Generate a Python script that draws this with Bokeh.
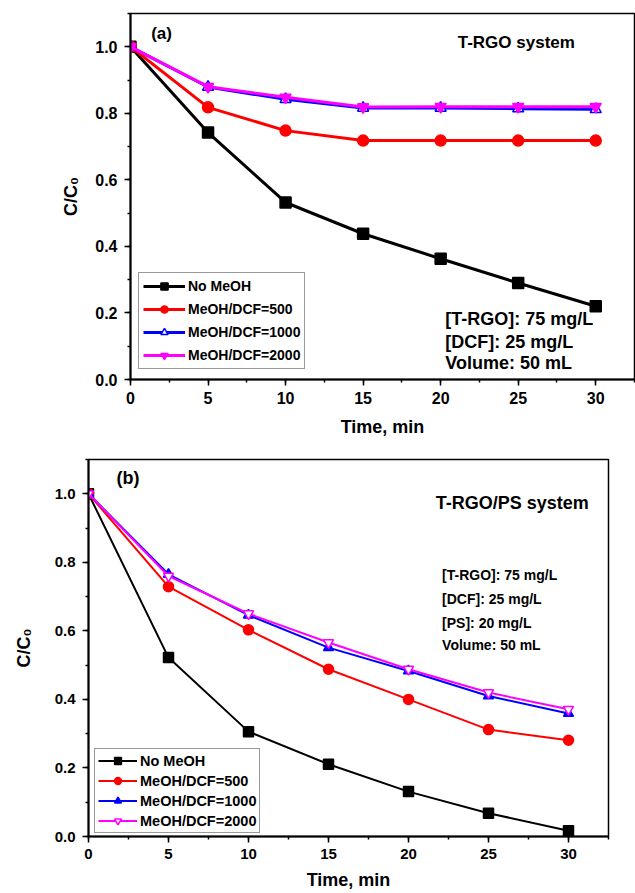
from bokeh.plotting import figure
from bokeh.layouts import column
from bokeh.models import Range1d, SingleIntervalTicker, PrintfTickFormatter, Label
from bokeh.embed import file_html
from bokeh.resources import INLINE

FONT = "Liberation Sans"

# ---- data ----
time_min = [0, 5, 10, 15, 20, 25, 30]
series_names = ["No MeOH", "MeOH/DCF=500", "MeOH/DCF=1000", "MeOH/DCF=2000"]

# panel (a): T-RGO system
a_no_meoh = [1.0, 0.742, 0.532, 0.438, 0.363, 0.290, 0.220]
a_500 = [1.0, 0.818, 0.748, 0.718, 0.718, 0.718, 0.718]
a_1000 = [1.0, 0.879, 0.842, 0.816, 0.816, 0.814, 0.812]
a_2000 = [1.0, 0.880, 0.848, 0.819, 0.820, 0.820, 0.820]

# panel (b): T-RGO/PS system
b_no_meoh = [1.0, 0.522, 0.306, 0.211, 0.131, 0.068, 0.017]
b_500 = [1.0, 0.729, 0.603, 0.488, 0.400, 0.312, 0.281]
b_1000 = [1.0, 0.765, 0.646, 0.551, 0.483, 0.410, 0.359]
b_2000 = [1.0, 0.760, 0.650, 0.566, 0.488, 0.420, 0.371]

a_notes = ["[T-RGO]: 75 mg/L", "[DCF]: 25 mg/L", "Volume: 50 mL"]
b_notes = ["[T-RGO]: 75 mg/L", "[DCF]:  25 mg/L", "[PS]: 20 mg/L", "Volume: 50 mL"]

colors = ["#000000", "#ff0000", "#0000ff", "#ff00ff"]
markers_a = ["square", "circle", "triangle", "inverted_triangle"]
fills_a = ["#000000", "#ff0000", "#ffffff", "#ff00ff"]
markers_b = ["square", "circle", "triangle", "inverted_triangle"]
fills_b = ["#000000", "#ff0000", "#0000ff", "#ffffff"]


def style(p, tick_size, label_size, ylab_standoff, xlab_standoff):
    p.frame_align = False
    p.xgrid.visible = False
    p.ygrid.visible = False
    p.outline_line_color = "#000000"
    p.outline_line_width = 1.5
    p.background_fill_color = "#ffffff"
    p.border_fill_color = "#ffffff"
    for ax in (p.xaxis[0], p.yaxis[0]):
        ax.axis_line_width = 2
        ax.axis_line_color = "#000000"
        ax.major_tick_line_width = 1.5
        ax.minor_tick_line_width = 1.5
        ax.major_tick_out = 6
        ax.major_tick_in = 0
        ax.minor_tick_out = 3
        ax.minor_tick_in = 0
        ax.major_label_text_font = FONT
        ax.major_label_text_font_style = "bold"
        ax.major_label_text_font_size = f"{tick_size}px"
        ax.major_label_text_color = "#000000"
        ax.axis_label_text_font = FONT
        ax.axis_label_text_font_style = "bold"
        ax.axis_label_text_font_size = f"{label_size}px"
        ax.axis_label_text_color = "#000000"
    p.xaxis[0].ticker = SingleIntervalTicker(interval=5, num_minor_ticks=2)
    p.yaxis[0].ticker = SingleIntervalTicker(interval=0.2, num_minor_ticks=2)
    p.xaxis[0].formatter = PrintfTickFormatter(format="%d")
    p.yaxis[0].formatter = PrintfTickFormatter(format="%.1f")
    p.xaxis[0].major_label_standoff = 6
    p.yaxis[0].major_label_standoff = 7
    p.yaxis[0].axis_label_standoff = ylab_standoff
    p.xaxis[0].axis_label_standoff = xlab_standoff


def style_legend(lg, loc, font_px, gw, gh, spacing, pad, bw):
    lg.location = loc
    lg.label_text_font = FONT
    lg.label_text_font_style = "bold"
    lg.label_text_font_size = f"{font_px}px"
    lg.label_text_color = "#000000"
    lg.glyph_width = gw
    lg.glyph_height = gh
    lg.label_height = gh
    lg.spacing = spacing
    lg.padding = pad
    lg.margin = 0
    lg.label_standoff = 3
    lg.border_line_color = "#333333"
    lg.border_line_width = bw
    lg.background_fill_alpha = 1


def note(p, x, y, txt, size):
    p.add_layout(Label(x=x, y=y, text=txt, text_font=FONT, text_font_style="bold",
                       text_font_size=f"{size}px", text_baseline="middle",
                       text_color="#000000"))


# ---- panel (a) ----
p1 = figure(width=635, height=445, output_backend="svg", toolbar_location=None,
            x_range=Range1d(0, 32.5), y_range=Range1d(0, 1.1),
            min_border_left=130, min_border_right=1, min_border_top=13,
            min_border_bottom=66,
            x_axis_label="Time, min", y_axis_label="C/C\u2080")
style(p1, 16, 18, 11, 10)

for name, ys, c, m, f in zip(series_names, [a_no_meoh, a_500, a_1000, a_2000],
                             colors, markers_a, fills_a):
    p1.line(time_min, ys, line_color=c, line_width=3, legend_label=name)
    p1.scatter(time_min, ys, marker=m, size=11, line_color=c, line_width=1.5,
               fill_color=f, legend_label=name)

note(p1, 1.33, 1.041, "(a)", 17)
note(p1, 21.1, 1.013, "T-RGO system", 17)
for txt, yy in zip(a_notes, [0.183, 0.114, 0.051]):
    note(p1, 20.3, yy, txt, 18)

style_legend(p1.legend[0], (8, 10), 14, 42, 18, 5, 4, 1.5)

# ---- panel (b) ----
p2 = figure(width=635, height=447, output_backend="svg", toolbar_location=None,
            x_range=Range1d(0, 32.5), y_range=Range1d(0, 1.1),
            min_border_left=88, min_border_right=27, min_border_top=14,
            x_axis_label="Time, min", y_axis_label="C/C\u2080")
style(p2, 15, 18, 18, 8)

for name, ys, c, m, f in zip(series_names, [b_no_meoh, b_500, b_1000, b_2000],
                             colors, markers_b, fills_b):
    p2.line(time_min, ys, line_color=c, line_width=2, legend_label=name)
    p2.scatter(time_min, ys, marker=m, size=10, line_color=c, line_width=1.5,
               fill_color=f, legend_label=name)

note(p2, 1.75, 1.045, "(b)", 18)
note(p2, 21.7, 0.972, "T-RGO/PS system", 18)
for txt, yy in zip(b_notes, [0.762, 0.694, 0.624, 0.560]):
    note(p2, 22.1, yy, txt, 14)

style_legend(p2.legend[0], (6, 3), 14.5, 39, 17, 3, 3, 1.2)

layout = column(p1, p2)
open("out.html", "w").write(file_html(layout, INLINE))
